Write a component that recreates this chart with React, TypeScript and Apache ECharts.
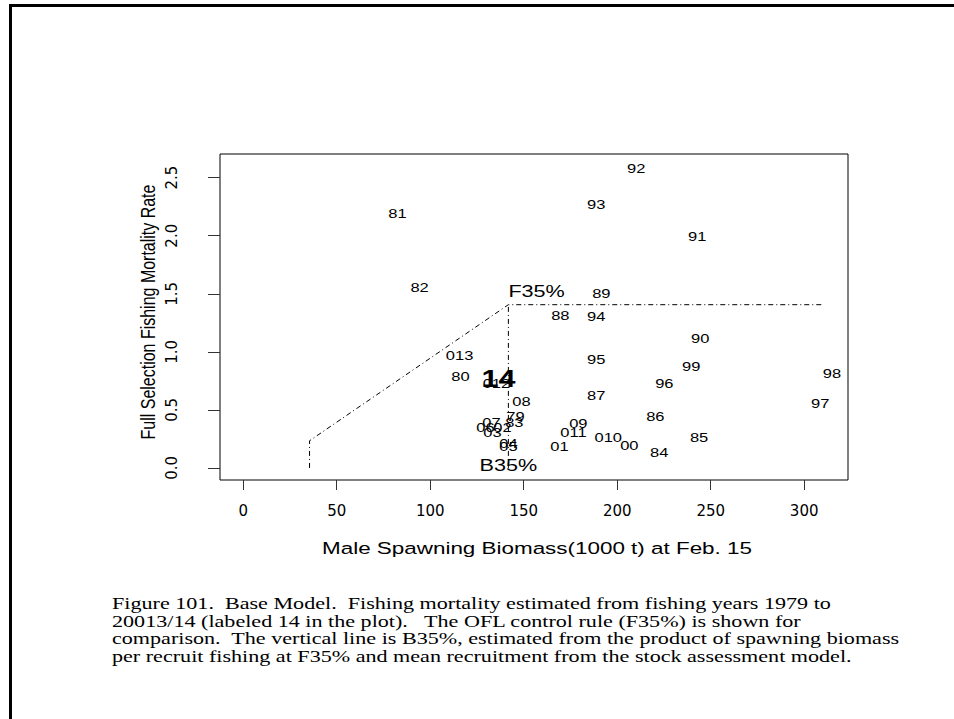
import React, { useEffect, useRef } from "react";
import * as echarts from "echarts";

// Fishing year labels (1979 ... 2013/14) and their estimates
const years = [
  "79", "80", "81", "82", "83", "84", "85", "86", "87", "88",
  "89", "90", "91", "92", "93", "94", "95", "96", "97", "98",
  "99", "00", "01", "02", "03", "04", "05", "06", "07", "08",
  "09", "010", "011", "012", "013", "14",
];
// Male spawning biomass (1000 t) at Feb. 15
const biomass = [
  145.6, 116.2, 82.5, 94.3, 145.0, 222.5, 243.8, 220.4, 188.8, 169.6,
  191.5, 244.4, 242.8, 210.2, 188.8, 188.8, 188.8, 225.2, 308.6, 314.9,
  239.6, 206.5, 169.1, 138.6, 133.3, 141.8, 141.8, 129.5, 132.7, 148.8,
  179.2, 195.2, 176.6, 135.4, 115.7, 136.5,
];
// Full selection fishing mortality rate
const fishingMortality = [
  0.438, 0.79, 2.19, 1.555, 0.387, 0.129, 0.258, 0.438, 0.627, 1.314,
  1.503, 1.117, 1.993, 2.577, 2.268, 1.306, 0.936, 0.73, 0.55, 0.816,
  0.876, 0.189, 0.18, 0.344, 0.301, 0.206, 0.18, 0.344, 0.387, 0.567,
  0.378, 0.258, 0.301, 0.73, 0.971, 0.765,
];

// OFL control rule (F35%) and the B35% reference line
const ruleBiomass = [35.45, 35.45, 141.8, 310.6];
const ruleF = [0, 0.234, 1.406, 1.406];
const b35Biomass = [141.8, 141.8];
const b35F = [0, 1.406];
const refLabels = ["F35%", "B35%"];
const refLabelX = [141.8, 141.8];
const refLabelY = [1.522, 0.025];

const xTicks = [0, 50, 100, 150, 200, 250, 300];
const yTicks = [0, 0.5, 1, 1.5, 2, 2.5];
const xLimits = [-12.44, 323.44];
const yLimits = [-0.104, 2.704];

const xTitle = "Male Spawning Biomass(1000 t) at Feb. 15";
const yTitle = "Full Selection Fishing Mortality Rate";
const captionLines = [
  "Figure 101.  Base Model.  Fishing mortality estimated from fishing years 1979 to",
  "20013/14 (labeled 14 in the plot).   The OFL control rule (F35%) is shown for",
  "comparison.  The vertical line is B35%, estimated from the product of spawning biomass",
  "per recruit fishing at F35% and mean recruitment from the stock assessment model.",
];

const WIDE = 1.27; // horizontal widening of the page's lettering
const SANS = "'Liberation Sans', Arial, sans-serif";
const SERIF = "'Liberation Serif', 'Times New Roman', serif";
const DASH_DOT = [5, 3, 1, 3];

export default function App() {
  const ref = useRef<HTMLDivElement>(null);

  useEffect(() => {
    if (!ref.current) return;
    const chart = echarts.init(ref.current, null, { renderer: "svg" });

    const option = {
      animation: false,
      backgroundColor: "#ffffff",
      grid: {
        left: 220,
        top: 154,
        width: 628,
        height: 326,
        show: true,
        borderColor: "#000",
        borderWidth: 1,
        backgroundColor: "transparent",
      },
      xAxis: {
        type: "value",
        min: xLimits[0],
        max: xLimits[1],
        splitLine: { show: false },
        axisLine: { show: false, onZero: false },
        axisTick: {
          show: true,
          inside: false,
          length: 10,
          customValues: xTicks,
          lineStyle: { color: "#333", width: 1 },
        },
        axisLabel: {
          customValues: xTicks,
          margin: 23,
          fontFamily: "'DejaVu Sans', sans-serif",
          fontSize: 15,
          color: "#000",
          formatter: (v: number) => String(v),
        },
      },
      yAxis: {
        type: "value",
        min: yLimits[0],
        max: yLimits[1],
        splitLine: { show: false },
        axisLine: { show: false, onZero: false },
        axisTick: {
          show: true,
          inside: false,
          length: 12,
          customValues: yTicks,
          lineStyle: { color: "#333", width: 1 },
        },
        axisLabel: {
          customValues: yTicks,
          rotate: 90,
          margin: 41,
          align: "center",
          verticalAlign: "bottom",
          fontFamily: "'DejaVu Sans', sans-serif",
          fontSize: 15,
          color: "#000",
          formatter: (v: number) => v.toFixed(1),
        },
      },
      series: [
        {
          type: "line",
          data: ruleBiomass.map((x, i) => [x, ruleF[i]]),
          symbol: "none",
          silent: true,
          lineStyle: { color: "#000", width: 1, type: DASH_DOT },
        },
        {
          type: "line",
          data: b35Biomass.map((x, i) => [x, b35F[i]]),
          symbol: "none",
          silent: true,
          lineStyle: { color: "#000", width: 1, type: DASH_DOT },
        },
        {
          type: "custom",
          coordinateSystem: "cartesian2d",
          silent: true,
          clip: false,
          data: biomass.map((x, i) => [x, fishingMortality[i]]),
          renderItem: (params: any, api: any) => {
            const p = api.coord([api.value(0), api.value(1)]);
            const label = years[params.dataIndex];
            const latest = label === "14";
            return {
              type: "text",
              x: p[0],
              y: p[1],
              scaleX: WIDE,
              style: {
                text: label,
                align: "center",
                verticalAlign: "middle",
                fontFamily: SANS,
                fontSize: latest ? 24 : 13,
                fontWeight: latest ? "bold" : "normal",
                fill: "#000",
              },
            };
          },
        },
        {
          type: "custom",
          coordinateSystem: "cartesian2d",
          silent: true,
          clip: false,
          data: refLabelX.map((x, i) => [x, refLabelY[i]]),
          renderItem: (params: any, api: any) => {
            const p = api.coord([api.value(0), api.value(1)]);
            const i = params.dataIndex;
            return {
              type: "text",
              x: p[0],
              y: p[1],
              scaleX: WIDE,
              style: {
                text: refLabels[i],
                align: i === 0 ? "left" : "center",
                verticalAlign: "middle",
                fontFamily: SANS,
                fontSize: 17,
                fill: "#000",
              },
            };
          },
        },
      ],
      graphic: [
        // page frame
        { type: "rect", shape: { x: 9, y: 4, width: 945, height: 3 }, style: { fill: "#000" }, silent: true },
        { type: "rect", shape: { x: 9, y: 4, width: 3, height: 715 }, style: { fill: "#000" }, silent: true },
        {
          type: "text",
          x: 537,
          y: 548,
          scaleX: 1.32,
          style: {
            text: xTitle,
            align: "center",
            verticalAlign: "middle",
            fontFamily: SANS,
            fontSize: 17,
            fill: "#000",
          },
          silent: true,
        },
        {
          type: "text",
          x: 148,
          y: 312,
          rotation: Math.PI / 2,
          scaleY: WIDE,
          style: {
            text: yTitle,
            align: "center",
            verticalAlign: "middle",
            fontFamily: SANS,
            fontSize: 16,
            fill: "#000",
          },
          silent: true,
        },
        ...captionLines.map((line, i) => ({
          type: "text",
          x: 112,
          y: 604 + i * 17.5,
          scaleX: 1.34,
          style: {
            text: line,
            align: "left",
            verticalAlign: "middle",
            fontFamily: SERIF,
            fontSize: 16.5,
            fill: "#000",
          },
          silent: true,
        })),
      ],
    };

    chart.setOption(option as any);
    return () => chart.dispose();
  }, []);

  return (
    <div
      ref={ref}
      style={{ position: "fixed", left: 0, top: 0, width: 954, height: 719, background: "#fff" }}
    />
  );
}
